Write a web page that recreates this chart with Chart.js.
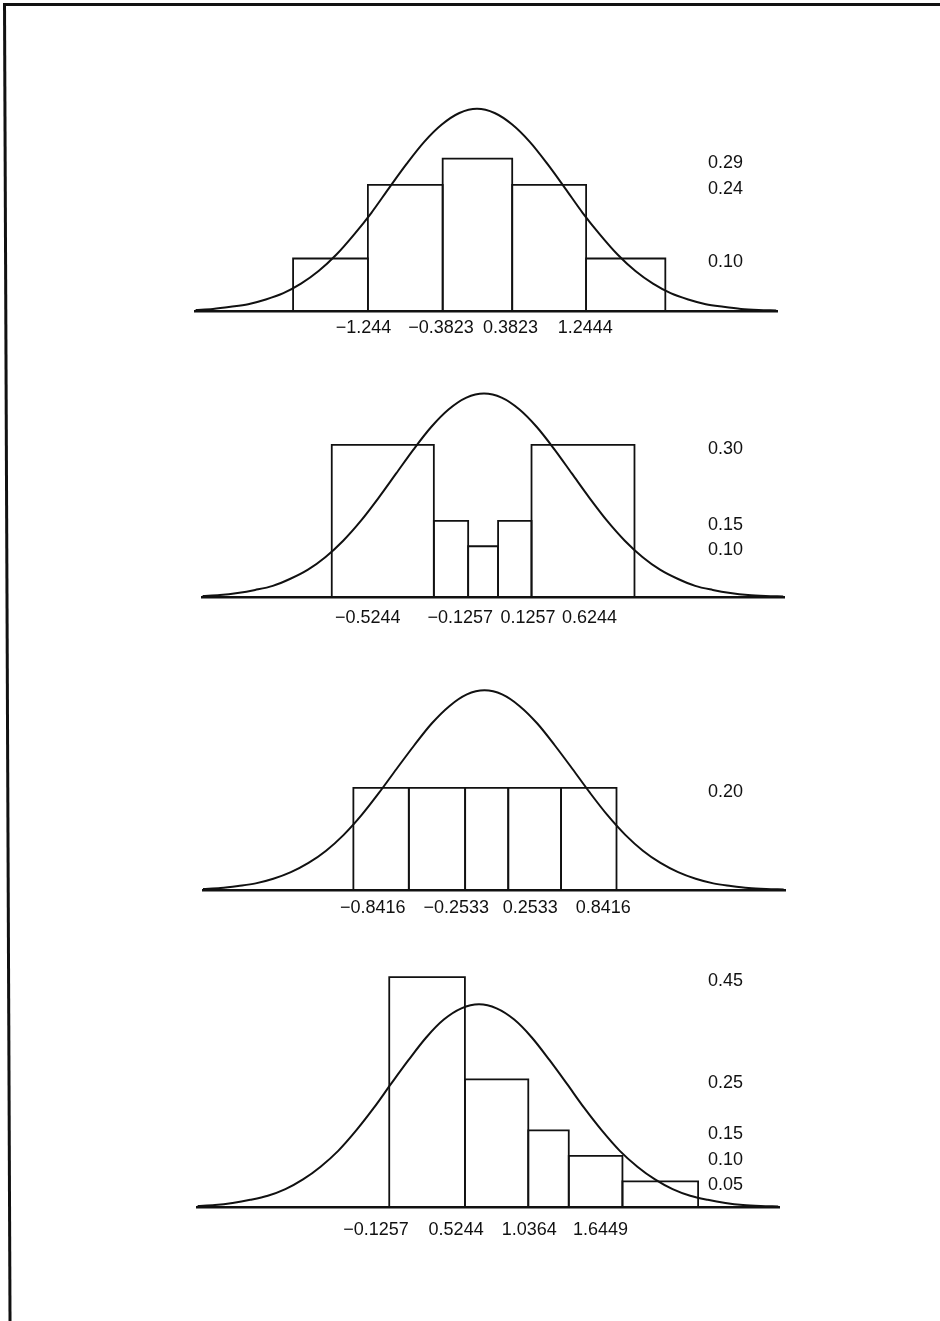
<!DOCTYPE html>
<html>
<head>
<meta charset="utf-8">
<title>Histograms against the normal curve</title>
<script src="https://cdn.jsdelivr.net/npm/chart.js@4/dist/chart.umd.min.js"></script>
<style>
  html, body { margin: 0; padding: 0; background: #fff; }
  #page { position: relative; width: 940px; height: 1321px; overflow: hidden; }
  .frame-top { position: absolute; left: 3px; top: 3px; width: 940px; height: 3px; background: #111; }
  .frame-left { position: absolute; left: 3px; top: 3px; width: 3px; height: 1330px; background: #111;
                transform-origin: top left; transform: skewX(0.24deg); }
  canvas { position: absolute; left: 0; }
</style>
</head>
<body>
<div id="page">
  <div class="frame-top"></div>
  <div class="frame-left"></div>
  <canvas id="p1" width="940" height="300" style="top:51px"></canvas>
  <canvas id="p2" width="940" height="300" style="top:337px"></canvas>
  <canvas id="p3" width="940" height="300" style="top:630px"></canvas>
  <canvas id="p4" width="940" height="300" style="top:947px"></canvas>
</div>
<script>
// x in units of the drawn curve's spread, 0 at the curve's peak
const curveX = [-3.2, -3.0, -2.8, -2.6, -2.4, -2.2, -2.0, -1.8, -1.6, -1.4, -1.2, -1.0, -0.8, -0.6, -0.4, -0.2, 0,
                0.2, 0.4, 0.6, 0.8, 1.0, 1.2, 1.4, 1.6, 1.8, 2.0, 2.2, 2.4, 2.6, 2.8, 3.0, 3.2, 3.4];

// curve heights
const curve1 = [0.002, 0.004, 0.008, 0.013, 0.022, 0.034, 0.052, 0.076, 0.107, 0.145, 0.187, 0.234, 0.280, 0.322, 0.355, 0.377, 0.385,
                0.377, 0.355, 0.322, 0.280, 0.234, 0.187, 0.145, 0.107, 0.076, 0.052, 0.034, 0.022, 0.013, 0.008, 0.004, 0.002, 0.001];
const curve2 = [0.002, 0.004, 0.008, 0.014, 0.022, 0.036, 0.054, 0.079, 0.111, 0.150, 0.195, 0.243, 0.291, 0.335, 0.370, 0.393, 0.401,
                0.393, 0.370, 0.335, 0.291, 0.243, 0.195, 0.150, 0.111, 0.079, 0.054, 0.036, 0.022, 0.014, 0.008, 0.004, 0.002, 0.001];
const curve3 = [0.002, 0.004, 0.008, 0.013, 0.022, 0.035, 0.053, 0.077, 0.108, 0.146, 0.190, 0.237, 0.283, 0.326, 0.360, 0.383, 0.391,
                0.383, 0.360, 0.326, 0.283, 0.237, 0.190, 0.146, 0.108, 0.077, 0.053, 0.035, 0.022, 0.013, 0.008, 0.004, 0.002, 0.001];
const curve4 = [0.002, 0.004, 0.008, 0.014, 0.022, 0.035, 0.054, 0.079, 0.110, 0.149, 0.193, 0.241, 0.288, 0.332, 0.367, 0.389, 0.397,
                0.389, 0.367, 0.332, 0.288, 0.241, 0.193, 0.149, 0.110, 0.079, 0.054, 0.035, 0.022, 0.014, 0.008, 0.004, 0.002, 0.001];

// histogram class edges and heights
const edges1 = [-2.09, -1.24, -0.39, 0.40, 1.24, 2.14];
const heights1 = [0.10, 0.24, 0.29, 0.24, 0.10];
const edges2 = [-1.73, -0.57, -0.18, 0.16, 0.54, 1.71];
const heights2 = [0.30, 0.15, 0.10, 0.15, 0.30];
const edges3 = [-1.49, -0.86, -0.22, 0.27, 0.87, 1.50];
const heights3 = [0.20, 0.20, 0.20, 0.20, 0.20];
const edges4 = [-1.02, -0.16, 0.56, 1.02, 1.63, 2.49];
const heights4 = [0.45, 0.25, 0.15, 0.10, 0.05];

// cut-point labels under each axis
const tickAt1 = [-1.29, -0.41, 0.38, 1.23];
const tickText1 = ['\u22121.244', '\u22120.3823', '0.3823', '1.2444'];
const tickAt2 = [-1.32, -0.27, 0.50, 1.20];
const tickText2 = ['\u22120.5244', '\u22120.1257', '0.1257', '0.6244'];
const tickAt3 = [-1.27, -0.32, 0.52, 1.35];
const tickText3 = ['\u22120.8416', '\u22120.2533', '0.2533', '0.8416'];
const tickAt4 = [-1.17, -0.26, 0.57, 1.38];
const tickText4 = ['\u22120.1257', '0.5244', '1.0364', '1.6449'];

const INK = '#111';
const FONT = '"Liberation Sans", Arial, Helvetica, sans-serif';
const X_MIN = -3.2, X_MAX = 3.42, PX_PER_UNIT = 88;

Chart.defaults.font.family = FONT;
Chart.defaults.font.size = 18;
Chart.defaults.color = INK;

// value labels at the right, one per distinct bar height
const valueLabels = {
    id: 'valueLabels',
    afterDraw(chart, args, opts) {
        if (!opts.values) return;
        const ctx = chart.ctx;
        const y = chart.scales.y;
        ctx.save();
        ctx.font = '18px ' + FONT;
        ctx.fillStyle = INK;
        ctx.textAlign = 'left';
        ctx.textBaseline = 'middle';
        opts.values.forEach(function (v) {
            ctx.fillText(v.toFixed(2), 708, y.getPixelForValue(v) + 4);
        });
        ctx.restore();
    }
};
Chart.register(valueLabels);

function barOutlines(edges, heights) {
    return heights.map(function (h, i) {
        return {
            data: [
                { x: edges[i], y: 0 }, { x: edges[i], y: h },
                { x: edges[i + 1], y: h }, { x: edges[i + 1], y: 0 }
            ],
            showLine: true,
            borderColor: INK,
            borderWidth: 1.8,
            pointRadius: 0,
            tension: 0,
            fill: false
        };
    });
}

function curveLine(ys) {
    return {
        data: curveX.map(function (x, i) { return { x: x, y: ys[i] }; }),
        showLine: true,
        borderColor: INK,
        borderWidth: 2,
        pointRadius: 0,
        cubicInterpolationMode: 'monotone',
        fill: false
    };
}

const panels = [
    { id: 'p1', curve: curve1, edges: edges1, heights: heights1, tickAt: tickAt1, tickText: tickText1, yMax: 0.457, center: 477, labelPad: 6 },
    { id: 'p2', curve: curve2, edges: edges2, heights: heights2, tickAt: tickAt2, tickText: tickText2, yMax: 0.473, center: 484, labelPad: 10 },
    { id: 'p3', curve: curve3, edges: edges3, heights: heights3, tickAt: tickAt3, tickText: tickText3, yMax: 0.470, center: 484.5, labelPad: 7 },
    { id: 'p4', curve: curve4, edges: edges4, heights: heights4, tickAt: tickAt4, tickText: tickText4, yMax: 0.470, center: 479, labelPad: 12 }
];

panels.forEach(function (p) {
    const padLeft = p.center + X_MIN * PX_PER_UNIT;
    const plotWidth = (X_MAX - X_MIN) * PX_PER_UNIT;
    const distinct = Array.from(new Set(p.heights)).sort(function (a, b) { return b - a; });

    new Chart(document.getElementById(p.id), {
        type: 'scatter',
        data: {
            datasets: barOutlines(p.edges, p.heights).concat([curveLine(p.curve)])
        },
        options: {
            responsive: false,
            animation: false,
            layout: { padding: { left: padLeft, right: 940 - padLeft - plotWidth, top: 20, bottom: 0 } },
            plugins: {
                legend: { display: false },
                tooltip: { enabled: false },
                valueLabels: { values: distinct }
            },
            scales: {
                x: {
                    type: 'linear',
                    min: X_MIN,
                    max: X_MAX,
                    grid: { display: false, drawTicks: false },
                    border: { display: true, color: INK, width: 2.5 },
                    ticks: {
                        autoSkip: false,
                        maxRotation: 0,
                        padding: p.labelPad,
                        color: INK,
                        font: { size: 18 },
                        callback: function (value, index) { return p.tickText[index]; }
                    },
                    afterBuildTicks: function (scale) {
                        scale.ticks = p.tickAt.map(function (v) { return { value: v }; });
                    },
                    afterFit: function (scale) { scale.height = 40; }
                },
                y: { display: false, min: 0, max: p.yMax }
            }
        }
    });
});
</script>
</body>
</html>
